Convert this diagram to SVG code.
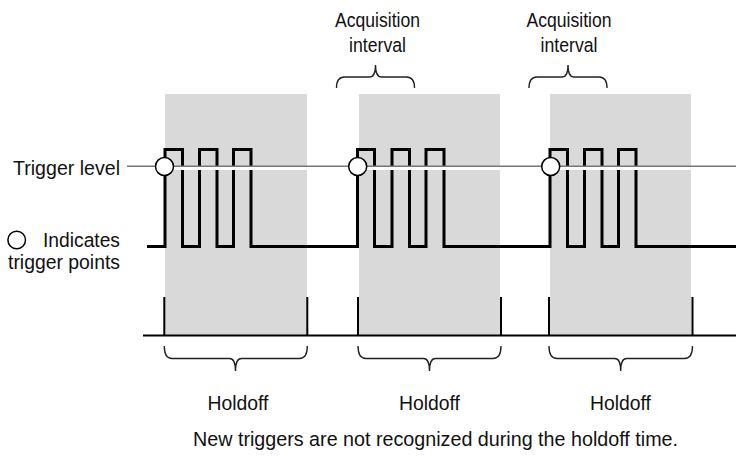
<svg xmlns="http://www.w3.org/2000/svg" width="736" height="456" viewBox="0 0 736 456">
<style>
text{font-family:"Liberation Sans",Arial,sans-serif;font-size:20.5px;fill:#111}
.shade{fill:#d9d9d9}
.wave{fill:none;stroke:#000;stroke-width:3;stroke-linejoin:miter}
.base{fill:none;stroke:#000;stroke-width:2}
.brace{fill:none;stroke:#222;stroke-width:1.4}
.tp{fill:#fff;stroke:#000;stroke-width:1.5}
</style>
<g id="holdoff-regions">
<rect class="shade" x="165" y="94" width="142" height="242"/>
<rect class="shade" x="359" y="94" width="141" height="242"/>
<rect class="shade" x="550" y="94" width="141" height="242"/>
</g>
<g id="waveform">
<path class="wave" d="M147,246.5 H165 V149.5 H182.5 V246.5 H199.5 V149.5 H217 V246.5 H233.5 V149.5 H251 V246.5 H357.5 V149.5 H374.5 V246.5 H392 V149.5 H409.5 V246.5 H426 V149.5 H444 V246.5 H550 V149.5 H567.5 V246.5 H584.5 V149.5 H602 V246.5 H618.5 V149.5 H636 V246.5 H736"/>
</g>
<g id="trigger-level">
<line x1="127" y1="168.5" x2="736" y2="168.5" stroke="#fff" stroke-width="3"/>
<line x1="127" y1="166.3" x2="736" y2="166.3" stroke="#777" stroke-width="1.6"/>
<text x="120" y="175" text-anchor="end" textLength="107" lengthAdjust="spacingAndGlyphs">Trigger level</text>
</g>
<g id="trigger-points">
<circle class="tp" cx="164.5" cy="166.5" r="9"/>
<circle class="tp" cx="357.7" cy="166.5" r="9"/>
<circle class="tp" cx="550.7" cy="166.5" r="9"/>
</g>
<g id="legend">
<circle class="tp" cx="16.7" cy="240" r="8.8" stroke-width="1.2"/>
<text x="120" y="246.5" text-anchor="end" textLength="77" lengthAdjust="spacingAndGlyphs">Indicates</text>
<text x="120" y="269" text-anchor="end" textLength="112" lengthAdjust="spacingAndGlyphs">trigger points</text>
</g>
<g id="timeline">
<path class="base" d="M143,335.5 H736 M164.3,297 V336 M307.3,297 V336 M358,297 V336 M501,297 V336 M549,297 V336 M692.5,297 V336"/>
</g>
<g id="connectors">
<path class="brace" d="M164.3,346 Q164.3,358.5 172,358.5 L229.5,358.5 Q235.5,358.5 235.5,371 Q235.5,358.5 241.5,358.5 L299.5,358.5 Q307.3,358.5 307.3,346"/>
<path class="brace" d="M358,346 Q358,358.5 366,358.5 L423.5,358.5 Q429.5,358.5 429.5,371 Q429.5,358.5 435.5,358.5 L493,358.5 Q501,358.5 501,346"/>
<path class="brace" d="M549,346 Q549,358.5 557,358.5 L614.7,358.5 Q620.7,358.5 620.7,371 Q620.7,358.5 626.7,358.5 L684.5,358.5 Q692.5,358.5 692.5,346"/>
<path class="brace" d="M336.5,88 Q336.5,77 344.5,77 L369.5,77 Q375.5,77 375.5,65 Q375.5,77 381.5,77 L406.5,77 Q414.5,77 414.5,88"/>
<path class="brace" d="M529,88 Q529,77 537,77 L562,77 Q568,77 568,65 Q568,77 574,77 L599,77 Q607,77 607,88"/>
</g>
<g id="labels">
<text x="377.5" y="27" text-anchor="middle" textLength="85" lengthAdjust="spacingAndGlyphs">Acquisition</text>
<text x="377.5" y="52" text-anchor="middle" textLength="57" lengthAdjust="spacingAndGlyphs">interval</text>
<text x="569" y="27" text-anchor="middle" textLength="85" lengthAdjust="spacingAndGlyphs">Acquisition</text>
<text x="569" y="52" text-anchor="middle" textLength="57" lengthAdjust="spacingAndGlyphs">interval</text>
<text x="238" y="410" text-anchor="middle" textLength="61" lengthAdjust="spacingAndGlyphs">Holdoff</text>
<text x="429.5" y="410" text-anchor="middle" textLength="61" lengthAdjust="spacingAndGlyphs">Holdoff</text>
<text x="620.5" y="410" text-anchor="middle" textLength="61" lengthAdjust="spacingAndGlyphs">Holdoff</text>
<text x="435.5" y="446" text-anchor="middle" textLength="485" lengthAdjust="spacingAndGlyphs">New triggers are not recognized during the holdoff time.</text>
</g>
</svg>
